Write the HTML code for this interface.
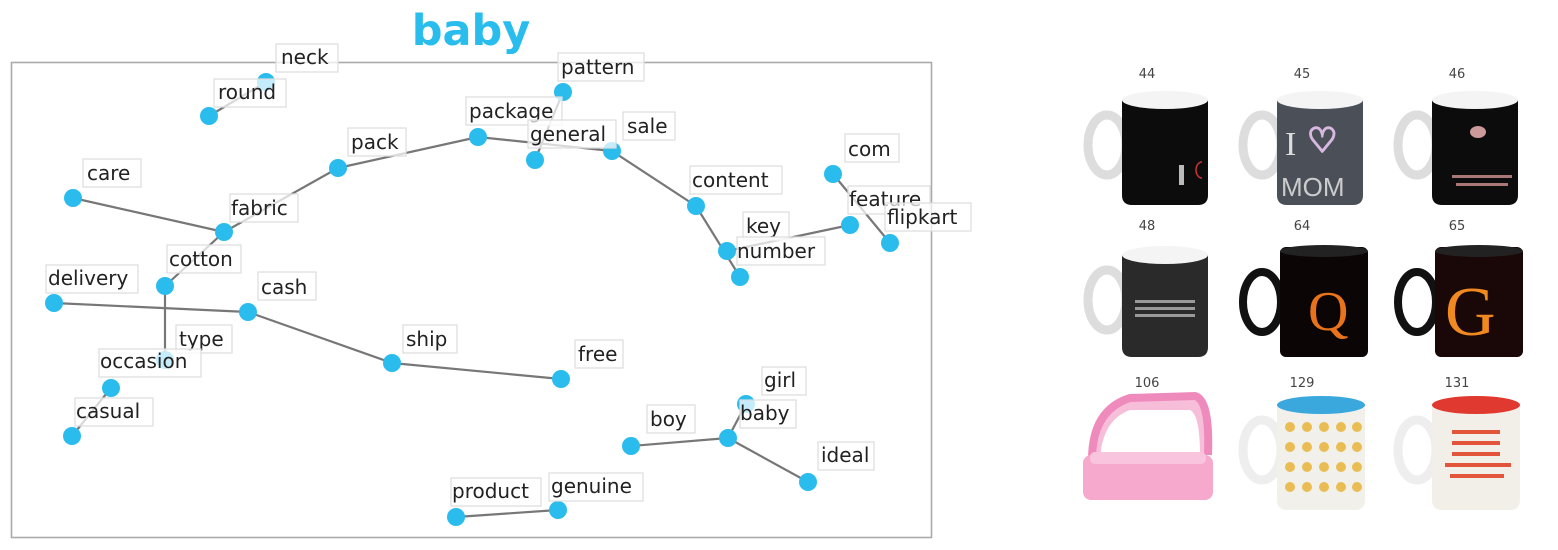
<!DOCTYPE html>
<html><head><meta charset="utf-8"><style>
html,body{margin:0;padding:0;background:#fff;width:1558px;height:550px;overflow:hidden}
svg{display:block}
.l{font-family:"DejaVu Sans","Liberation Sans",sans-serif;font-size:20px;fill:#222}
.b{fill:#fff;stroke:#ddd;stroke-width:1.2;fill-opacity:.72}
.n{fill:#2bbcee}
.e{stroke:#777;stroke-width:2.2;fill:none}
.c{font-family:"DejaVu Sans","Liberation Sans",sans-serif;font-size:13px;fill:#444;text-anchor:middle}
</style></head><body>
<svg width="1558" height="550" xmlns="http://www.w3.org/2000/svg">
<text x="471" y="45" text-anchor="middle" font-family="DejaVu Sans,Liberation Sans,sans-serif" font-weight="bold" font-size="43" fill="#29bdee">baby</text>
<rect x="11.5" y="62.5" width="920" height="475" fill="none" stroke="#aaa" stroke-width="1.6"/>
<g class="e">
<line x1="209" y1="116" x2="266" y2="82"/>
<line x1="73" y1="198" x2="224" y2="232"/>
<line x1="224" y1="232" x2="338" y2="168"/>
<line x1="338" y1="168" x2="478" y2="137"/>
<line x1="478" y1="137" x2="612" y2="151"/>
<line x1="563" y1="92" x2="535" y2="160"/>
<line x1="612" y1="151" x2="696" y2="206"/>
<line x1="696" y1="206" x2="740" y2="277"/>
<line x1="727" y1="251" x2="850" y2="225"/>
<line x1="833" y1="174" x2="890" y2="243"/>
<line x1="224" y1="232" x2="165" y2="286"/>
<line x1="165" y1="286" x2="165" y2="360"/>
<line x1="54" y1="303" x2="248" y2="312"/>
<line x1="248" y1="312" x2="392" y2="363"/>
<line x1="392" y1="363" x2="561" y2="379"/>
<line x1="111" y1="388" x2="72" y2="436"/>
<line x1="631" y1="446" x2="728" y2="438"/>
<line x1="728" y1="438" x2="746" y2="404"/>
<line x1="728" y1="438" x2="808" y2="482"/>
<line x1="456" y1="517" x2="558" y2="510"/>
</g>
<g class="n">
<circle cx="266" cy="82" r="9"/><circle cx="209" cy="116" r="9"/><circle cx="73" cy="198" r="9"/>
<circle cx="224" cy="232" r="9"/><circle cx="338" cy="168" r="9"/><circle cx="478" cy="137" r="9"/>
<circle cx="535" cy="160" r="9"/><circle cx="563" cy="92" r="9"/><circle cx="612" cy="151" r="9"/>
<circle cx="696" cy="206" r="9"/><circle cx="727" cy="251" r="9"/><circle cx="740" cy="277" r="9"/>
<circle cx="833" cy="174" r="9"/><circle cx="850" cy="225" r="9"/><circle cx="890" cy="243" r="9"/>
<circle cx="165" cy="286" r="9"/><circle cx="54" cy="303" r="9"/><circle cx="248" cy="312" r="9"/>
<circle cx="165" cy="360" r="9"/><circle cx="111" cy="388" r="9"/><circle cx="72" cy="436" r="9"/>
<circle cx="392" cy="363" r="9"/><circle cx="561" cy="379" r="9"/><circle cx="746" cy="404" r="9"/>
<circle cx="728" cy="438" r="9"/><circle cx="631" cy="446" r="9"/><circle cx="808" cy="482" r="9"/>
<circle cx="456" cy="517" r="9"/><circle cx="558" cy="510" r="9"/>
</g>
<g>
<rect class="b" x="276" y="44" width="62" height="28"/><text class="l" x="281" y="64">neck</text>
<rect class="b" x="214" y="79" width="72" height="28"/><text class="l" x="218" y="99">round</text>
<rect class="b" x="83" y="159" width="58" height="28"/><text class="l" x="87" y="180">care</text>
<rect class="b" x="230" y="194" width="68" height="28"/><text class="l" x="231" y="215">fabric</text>
<rect class="b" x="348" y="128" width="58" height="28"/><text class="l" x="351" y="149">pack</text>
<rect class="b" x="466" y="97" width="96" height="28"/><text class="l" x="469" y="118">package</text>
<rect class="b" x="528" y="120" width="88" height="28"/><text class="l" x="530" y="141">general</text>
<rect class="b" x="558" y="53" width="86" height="28"/><text class="l" x="561" y="74">pattern</text>
<rect class="b" x="623" y="112" width="52" height="28"/><text class="l" x="627" y="133">sale</text>
<rect class="b" x="690" y="166" width="92" height="28"/><text class="l" x="692" y="187">content</text>
<rect class="b" x="743" y="212" width="46" height="28"/><text class="l" x="746" y="233">key</text>
<rect class="b" x="737" y="237" width="88" height="28"/><text class="l" x="737" y="258">number</text>
<rect class="b" x="845" y="134" width="54" height="28"/><text class="l" x="848" y="156">com</text>
<rect class="b" x="848" y="186" width="82" height="28"/><text class="l" x="849" y="206">feature</text>
<rect class="b" x="885" y="203" width="86" height="28"/><text class="l" x="887" y="224">flipkart</text>
<rect class="b" x="167" y="245" width="74" height="28"/><text class="l" x="169" y="266">cotton</text>
<rect class="b" x="46" y="265" width="92" height="28"/><text class="l" x="48" y="285">delivery</text>
<rect class="b" x="258" y="272" width="58" height="28"/><text class="l" x="261" y="294">cash</text>
<rect class="b" x="176" y="325" width="56" height="28"/><text class="l" x="179" y="346">type</text>
<rect class="b" x="99" y="349" width="102" height="28"/><text class="l" x="100" y="368">occasion</text>
<rect class="b" x="75" y="398" width="78" height="28"/><text class="l" x="76" y="418">casual</text>
<rect class="b" x="403" y="325" width="54" height="28"/><text class="l" x="406" y="346">ship</text>
<rect class="b" x="575" y="340" width="48" height="28"/><text class="l" x="578" y="361">free</text>
<rect class="b" x="762" y="367" width="44" height="28"/><text class="l" x="764" y="387">girl</text>
<rect class="b" x="740" y="400" width="56" height="28"/><text class="l" x="740" y="420">baby</text>
<rect class="b" x="647" y="405" width="48" height="28"/><text class="l" x="650" y="426">boy</text>
<rect class="b" x="818" y="442" width="56" height="28"/><text class="l" x="821" y="462">ideal</text>
<rect class="b" x="451" y="478" width="90" height="28"/><text class="l" x="452" y="498">product</text>
<rect class="b" x="549" y="473" width="94" height="28"/><text class="l" x="551" y="493">genuine</text>
</g>
<text class="c" x="1147" y="78">44</text><text class="c" x="1302" y="78">45</text><text class="c" x="1457" y="78">46</text>
<text class="c" x="1147" y="230">48</text><text class="c" x="1302" y="230">64</text><text class="c" x="1457" y="230">65</text>
<text class="c" x="1147" y="387">106</text><text class="c" x="1302" y="387">129</text><text class="c" x="1457" y="387">131</text>
<defs>
<g id="wm"><ellipse cx="27" cy="55" rx="19" ry="30" fill="none" stroke="#ddd" stroke-width="9"/></g>
</defs>
<g transform="translate(1080,90)"><use href="#wm"/><path d="M42 10 H128 V105 Q128 115 118 115 H52 Q42 115 42 105Z" fill="#0c0c0c"/><ellipse cx="85" cy="10" rx="43" ry="9" fill="#f4f4f4"/><rect x="99" y="75" width="5" height="20" fill="#bbb"/><path d="M122 72 a6 8 0 0 0 0 16" stroke="#c33" fill="none" stroke-width="1.5"/></g>
<g transform="translate(1235,90)"><use href="#wm"/><path d="M42 10 H128 V105 Q128 115 118 115 H52 Q42 115 42 105Z" fill="#4a4f58"/><ellipse cx="85" cy="10" rx="43" ry="9" fill="#f4f4f4"/><text x="50" y="65" font-family="Liberation Serif,serif" font-size="34" fill="#ddd">I</text><text x="72" y="62" font-size="34" fill="none" stroke="#d8b8e0" stroke-width="2" font-family="DejaVu Sans,sans-serif">♡</text><text x="46" y="106" font-family="Liberation Sans,sans-serif" font-size="26" fill="#ccc">MOM</text></g>
<g transform="translate(1390,90)"><use href="#wm"/><path d="M42 10 H128 V105 Q128 115 118 115 H52 Q42 115 42 105Z" fill="#0c0c0c"/><ellipse cx="85" cy="10" rx="43" ry="9" fill="#f4f4f4"/><ellipse cx="88" cy="42" rx="8" ry="6" fill="#c99"/><rect x="62" y="85" width="60" height="3" fill="#a77"/><rect x="66" y="93" width="52" height="3" fill="#a77"/></g>
<g transform="translate(1080,245)"><use href="#wm"/><path d="M42 10 H128 V102 Q128 112 118 112 H52 Q42 112 42 102Z" fill="#2a2a2a"/><ellipse cx="85" cy="10" rx="43" ry="9" fill="#f4f4f4"/><rect x="55" y="55" width="60" height="3" fill="#999"/><rect x="55" y="62" width="60" height="3" fill="#999"/><rect x="55" y="69" width="60" height="3" fill="#999"/></g>
<g transform="translate(1238,245)"><ellipse cx="24" cy="57" rx="19" ry="30" fill="none" stroke="#111" stroke-width="8"/><rect x="42" y="2" width="88" height="110" rx="6" fill="#0b0505"/><ellipse cx="86" cy="6" rx="44" ry="6" fill="#222"/><text x="70" y="85" font-family="Liberation Serif,serif" font-size="56" fill="#e8731a">Q</text></g>
<g transform="translate(1393,245)"><ellipse cx="24" cy="57" rx="19" ry="30" fill="none" stroke="#111" stroke-width="8"/><rect x="42" y="2" width="88" height="110" rx="6" fill="#1a0707"/><ellipse cx="86" cy="6" rx="44" ry="6" fill="#222"/><text x="52" y="90" font-family="Liberation Serif,serif" font-size="70" fill="#f08a20">G</text></g>
<g>
<path d="M1092 460 Q1092 410 1130 398 L1195 396 Q1210 400 1208 455" fill="#f7b8d6" stroke="#ee7fb5" stroke-width="8" opacity=".9"/>
<path d="M1100 460 Q1102 420 1130 410 L1190 410 Q1200 415 1200 455Z" fill="#fff"/>
<rect x="1083" y="455" width="130" height="45" rx="8" fill="#f6a9cc"/>
<rect x="1090" y="452" width="116" height="12" rx="5" fill="#f9c4dd"/>
</g>
<g transform="translate(1235,395)"><ellipse cx="27" cy="55" rx="19" ry="30" fill="none" stroke="#eee" stroke-width="9"/><path d="M42 10 H130 V105 Q130 115 120 115 H52 Q42 115 42 105Z" fill="#f2f0ea"/><ellipse cx="86" cy="10" rx="44" ry="9" fill="#3aa8dd"/>
<g fill="#e8b53a" opacity=".85"><circle cx="55" cy="32" r="5"/><circle cx="72" cy="32" r="5"/><circle cx="89" cy="32" r="5"/><circle cx="106" cy="32" r="5"/><circle cx="122" cy="32" r="5"/>
<circle cx="55" cy="52" r="5"/><circle cx="72" cy="52" r="5"/><circle cx="89" cy="52" r="5"/><circle cx="106" cy="52" r="5"/><circle cx="122" cy="52" r="5"/>
<circle cx="55" cy="72" r="5"/><circle cx="72" cy="72" r="5"/><circle cx="89" cy="72" r="5"/><circle cx="106" cy="72" r="5"/><circle cx="122" cy="72" r="5"/>
<circle cx="55" cy="92" r="5"/><circle cx="72" cy="92" r="5"/><circle cx="89" cy="92" r="5"/><circle cx="106" cy="92" r="5"/><circle cx="122" cy="92" r="5"/></g></g>
<g transform="translate(1390,395)"><ellipse cx="27" cy="55" rx="19" ry="30" fill="none" stroke="#eee" stroke-width="9"/><path d="M42 10 H130 V105 Q130 115 120 115 H52 Q42 115 42 105Z" fill="#f2efe8"/><ellipse cx="86" cy="10" rx="44" ry="9" fill="#e03a30"/>
<g fill="#e2553a"><rect x="62" y="35" width="48" height="4"/><rect x="62" y="46" width="48" height="4"/><rect x="62" y="57" width="48" height="4"/><rect x="55" y="68" width="66" height="4"/><rect x="60" y="79" width="54" height="4"/></g></g>
</svg>
</body></html>
